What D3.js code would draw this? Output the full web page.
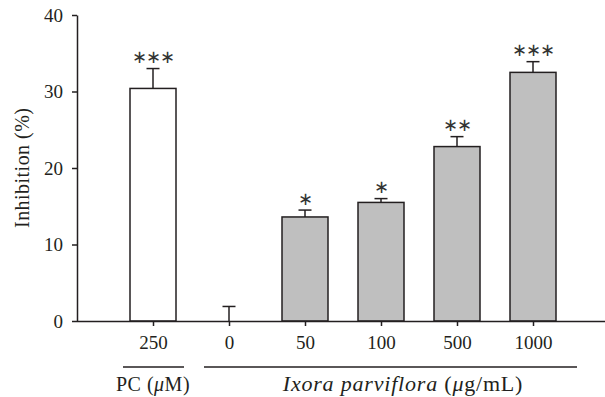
<!DOCTYPE html>
<html>
<head>
<meta charset="utf-8">
<script src="https://cdn.jsdelivr.net/npm/d3@7"></script>
<style>
  body { margin: 0; background: #fff; }
  text { font-family: "Liberation Serif", "DejaVu Serif", serif; fill: #231f20; }
</style>
</head>
<body>
<div class="chart"></div>
<script>
const categories = ["250", "0", "50", "100", "500", "1000"];
const values = [30.4, 0, 13.6, 15.5, 22.8, 32.5];
const errors = [2.6, 1.9, 0.9, 0.5, 1.3, 1.4];
const stars = ["***", "", "*", "*", "**", "***"];
const fills = ["#ffffff", "#bfbfbf", "#bfbfbf", "#bfbfbf", "#bfbfbf", "#bfbfbf"];
const yTicks = [0, 10, 20, 30, 40];

const svgWidth = 605;
const svgHeight = 397;

let svg = d3.select(".chart")
    .append("svg")
    .attr("width", svgWidth)
    .attr("height", svgHeight)

let xScale = d3.scalePoint()
    .domain(categories)
    .range([153, 533])

let yScale = d3.scaleLinear()
    .domain([0, 40])
    .range([321, 15])

const barWidth = 46;

// bars
svg.selectAll("rect.bar")
    .data(categories.filter((d, i) => values[i] > 0))
    .enter()
    .append("rect")
    .attr("class", "bar")
    .attr("x", d => xScale(d) - barWidth/2)
    .attr("y", d => yScale(values[categories.indexOf(d)]))
    .attr("width", barWidth)
    .attr("height", d => yScale(0) - yScale(values[categories.indexOf(d)]))
    .style("fill", d => fills[categories.indexOf(d)])
    .style("stroke", "#231f20")
    .style("stroke-width", 1.5)

// error bars
let errGroup = svg.append("g")
    .style("stroke", "#231f20")
    .style("stroke-width", 1.5)

categories.forEach((c, i) => {
    let x = xScale(c);
    errGroup.append("line")
        .attr("x1", x).attr("x2", x)
        .attr("y1", yScale(values[i])).attr("y2", yScale(values[i] + errors[i]))
    errGroup.append("line")
        .attr("x1", x - 6.5).attr("x2", x + 6.5)
        .attr("y1", yScale(values[i] + errors[i])).attr("y2", yScale(values[i] + errors[i]))
})

// significance stars
svg.selectAll("text.star")
    .data(categories)
    .enter()
    .append("text")
    .attr("class", "star")
    .attr("x", d => xScale(d))
    .attr("y", (d, i) => yScale(values[i] + errors[i]) - 12)
    .attr("dominant-baseline", "central")
    .attr("text-anchor", "middle")
    .style("font-family", "'DejaVu Sans', sans-serif")
    .style("font-size", "18px")
    .style("letter-spacing", "-1px")
    .style("fill", "#333")
    .text((d, i) => stars[i].replace(/\*/g, "\u2217"))

// axes
let yAxis = d3.axisLeft()
    .scale(yScale)
    .tickValues(yTicks)
    .tickSize(5)
    .tickSizeOuter(0)
    .tickPadding(9)

let yAxisGroup = svg.append("g")
    .attr("transform", "translate(77, 0)")
    .call(yAxis)

let xAxis = d3.axisBottom()
    .scale(xScale)
    .tickSize(5)
    .tickSizeOuter(0)
    .tickPadding(10)

let xAxisGroup = svg.append("g")
    .attr("transform", `translate(0, ${yScale(0)})`)
    .call(xAxis)

xAxisGroup.select(".domain").attr("d", `M77,0.5H${svgWidth}`)

svg.selectAll(".domain, .tick line")
    .style("stroke", "#231f20")
    .style("stroke-width", 1.5)

svg.selectAll(".tick text")
    .style("font-family", "'Liberation Serif', serif")
    .style("font-size", "19px")
    .style("fill", "#231f20")

// y label
svg.append("text")
    .attr("transform", "translate(29, 168) rotate(-90)")
    .attr("text-anchor", "middle")
    .attr("textLength", 120)
    .attr("lengthAdjust", "spacing")
    .style("font-size", "20px")
    .text("Inhibition (%)")

// group brackets
svg.append("line")
    .attr("x1", 123).attr("x2", 184)
    .attr("y1", 367).attr("y2", 367)
    .style("stroke", "#231f20").style("stroke-width", 1.3)

svg.append("line")
    .attr("x1", 204).attr("x2", 577)
    .attr("y1", 367).attr("y2", 367)
    .style("stroke", "#231f20").style("stroke-width", 1.3)

let pcLabel = svg.append("text")
    .attr("x", xScale("250"))
    .attr("y", 391)
    .attr("text-anchor", "middle")
    .style("font-size", "20px")
    .style("letter-spacing", "0.5px")
pcLabel.append("tspan").text("PC (")
pcLabel.append("tspan").style("font-style", "italic").text("\u03bc")
pcLabel.append("tspan").text("M)")

let ixLabel = svg.append("text")
    .attr("x", 403)
    .attr("y", 391)
    .attr("text-anchor", "middle")
    .style("font-size", "22px")
    .style("letter-spacing", "0.8px")
ixLabel.append("tspan").style("font-style", "italic").text("Ixora parviflora")
ixLabel.append("tspan").text(" (")
ixLabel.append("tspan").style("font-style", "italic").text("\u03bc")
ixLabel.append("tspan").text("g/mL)")
</script>
</body>
</html>
